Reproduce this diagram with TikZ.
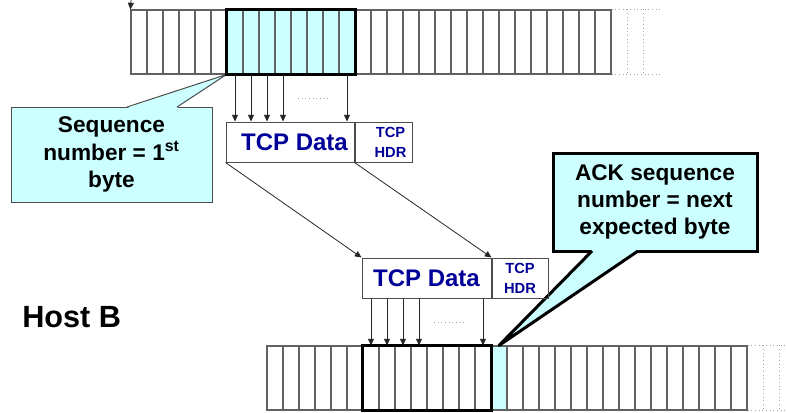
\documentclass[tikz,border=0pt]{standalone}
\usepackage{fontspec}
\setmainfont{Liberation Sans}
\usetikzlibrary{arrows.meta}

\definecolor{callcyan}{HTML}{CCFFFF}
\definecolor{tcpblue}{HTML}{000099}

\begin{document}
\begin{tikzpicture}[
    x = 0.75pt, y = -0.75pt,
    %
    cell/.style = {draw = black!62, line width = 0.8pt,
      inner sep = 0pt, minimum width = 12pt, minimum height = 48pt},
    window/.style = {draw, line width = 2.25pt},
    ghost/.style = {draw = black!35, dotted, line width = 0.75pt},
    %
    databox/.style = {draw = black!70, line width = 0.75pt,
      inner sep = 0pt, minimum height = 30pt, text = tcpblue,
      font = \fontsize{18}{20}\selectfont\bfseries},
    hdrbox/.style = {databox, align = center,
      font = \fontsize{11}{15}\selectfont\bfseries},
    %
    flow/.style = {-{Triangle[length = 5pt, width = 4.5pt]},
      line width = 0.6pt, black!85},
    calloutbox/.style = {fill = callcyan, align = center,
      inner sep = 0pt,
      font = \fontsize{17}{20.5}\selectfont\bfseries},
    ]

    \useasboundingbox (0, 0) rectangle (786, 412);

    % sending buffer
    \foreach \i in {0,...,29}
    \node [cell] (s\i) at (139 + 16*\i, 42) {};
    \foreach \i in {6,...,13}
    \node [cell, fill = callcyan] (s\i) at (139 + 16*\i, 42) {};

    % receiving buffer
    \foreach \i in {0,...,29}
    \node [cell] (r\i) at (275 + 16*\i, 378) {};
    \node [cell, fill = callcyan] (r14) at (275 + 16*14, 378) {};

    % callout: first byte
    \node [calloutbox, draw = black!70, line width = 0.75pt,
      minimum width = 150.75pt, minimum height = 71.25pt]
    (seq) at (111.5, 154.5) {Sequence\\number = 1\textsuperscript{st}\\byte};
    \fill [callcyan] (127, 108) -- (s6.south west) -- (177, 108) -- cycle;
    \draw [black!70, line width = 0.75pt, line join = round]
    (127, 107) -- (s6.south west) -- (177, 107);

    % callout: next expected byte
    \node [calloutbox, draw, line width = 2.25pt,
      minimum width = 153pt, minimum height = 73.5pt]
    (ack) at (655, 202) {ACK sequence\\number = next\\expected byte};
    \fill [callcyan] (592, 250) -- (r14.north) -- (638, 250) -- cycle;
    \draw [line width = 2.25pt, line join = round]
    (592, 251) -- (r14.north) -- (638, 251);

    % windows and unused tail
    \draw [window] (s6.north west) rectangle (s13.south east);
    \draw [window] (r6.north west) rectangle (r13.south east);

    \draw [ghost] (s29.north east) -- ++(48, 0) (s29.south east) -- ++(48, 0);
    \draw [ghost] (r29.north east) -- ++(48, 0) (r29.south east) -- ++(48, 0);
    \foreach \k in {12pt, 24pt} {
      \draw [ghost] ([xshift = \k]s29.north east) -- ([xshift = \k]s29.south east);
      \draw [ghost] ([xshift = \k]r29.north east) -- ([xshift = \k]r29.south east);
    }

    % segments
    \node at (290, 142) [databox, minimum width = 96pt, name = data1]
    {\hspace*{6.75pt}TCP Data};
    \node [hdrbox, anchor = west, minimum width = 42.75pt, name = hdr1]
    at (data1.east) {\hspace*{10.5pt}TCP\\\hspace*{10.5pt}HDR};

    \node at (426.5, 278) [databox, minimum width = 96.75pt, name = data2] {TCP Data};
    \node [hdrbox, anchor = west, minimum width = 42pt, name = hdr2]
    at (data2.east) {TCP\\HDR};

    \node [anchor = base west, inner sep = 0pt,
      font = \fontsize{23}{27}\selectfont\bfseries]
    (hostB) at (22, 327) {Host B};

    % arrows
    \coordinate (feed) at (131, 0);
    \draw [flow] (feed) -- (s0.north west);

    \foreach \i in {6, 7, 8, 9, 13}
    \draw [flow] (s\i.south) -- (s\i.south |- data1.north);
    \foreach \i in {6, 7, 8, 9, 13}
    \draw [flow] (r\i.north |- data2.south) -- (r\i.north);

    \draw [ghost] (298, 98) -- (329, 98);
    \draw [ghost] (434, 322) -- (466, 322);

    \draw [flow] (data1.south west) -- (data2.north west);
    \draw [flow] (data1.south east) -- (data2.north east);

  \end{tikzpicture}
\end{document}
